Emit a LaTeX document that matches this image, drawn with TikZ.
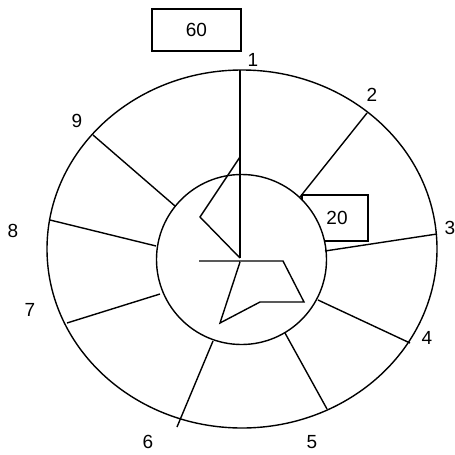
\documentclass[tikz,border=0pt]{standalone}
\usepackage{fontspec}
\setmainfont{Liberation Sans}
\begin{document}
\begin{tikzpicture}[x=1pt,y=-1pt,line width=1.4pt,
  lbl/.style={font=\fontsize{19}{19}\selectfont,inner sep=0pt},
  valbox/.style={draw,font=\fontsize{19}{19}\selectfont,inner sep=0pt,line width=1.4pt}]
\useasboundingbox (0,0) rectangle (455,455);
% value boxes
\node[valbox,minimum width=89pt,minimum height=42pt] (b60) at (196.5,30) {60};
\node[valbox,minimum width=66pt,minimum height=46pt,text depth=0pt] (b20) at (335,218) {\hspace{4pt}20};
% outer ellipse and inner circle
\draw (242,249) ellipse [x radius=195, y radius=179];
\node[draw,circle,fill=white,minimum size=170pt,inner sep=0pt,line width=1.4pt] (inner) at (241.5,259.5) {};
% spoke end points
\coordinate (o1) at (240,70);   \coordinate (c0) at (240,258);
\coordinate (o2) at (367,113);  \coordinate (i2) at (300,197);
\coordinate (o3) at (437,234);  \coordinate (i3) at (325,251);
\coordinate (o4) at (410,343);  \coordinate (i4) at (318,300);
\coordinate (o5) at (327,409);  \coordinate (i5) at (285,333);
\coordinate (o6) at (177,427);  \coordinate (i6) at (213,341);
\coordinate (o7) at (67,323);   \coordinate (i7) at (160,294);
\coordinate (o8) at (50,220);   \coordinate (i8) at (156,246);
\coordinate (o9) at (93,135);   \coordinate (i9) at (175,206);
% spokes
\draw (o1) -- (c0);
\draw (o2) -- (i2);
\draw (o3) -- (i3);
\draw (o4) -- (i4);
\draw (o5) -- (i5);
\draw (o6) -- (i6);
\draw (o7) -- (i7);
\draw (o8) -- (i8);
\draw (o9) -- (i9);
% inner polylines
\coordinate (p1) at (240,157);
\coordinate (p2) at (200,217);
\draw (p1) -- (p2) -- (c0);
\coordinate (q1) at (199,261);
\coordinate (q2) at (283,261);
\coordinate (q3) at (304,302);
\coordinate (q4) at (260,302);
\coordinate (q5) at (220,323);
\coordinate (q6) at (240,262);
\draw (q1) -- (q2) -- (q3) -- (q4) -- (q5) -- (q6);
% labels
\node[lbl] (l1) at (253,60) {1};
\node[lbl] (l2) at (372,95) {2};
\node[lbl] (l3) at (450,228) {3};
\node[lbl] (l4) at (427,338) {4};
\node[lbl] (l5) at (312,442) {5};
\node[lbl] (l6) at (148,442) {6};
\node[lbl] (l7) at (30,310) {7};
\node[lbl] (l8) at (13,231) {8};
\node[lbl] (l9) at (77,121) {9};
\end{tikzpicture}
\end{document}
